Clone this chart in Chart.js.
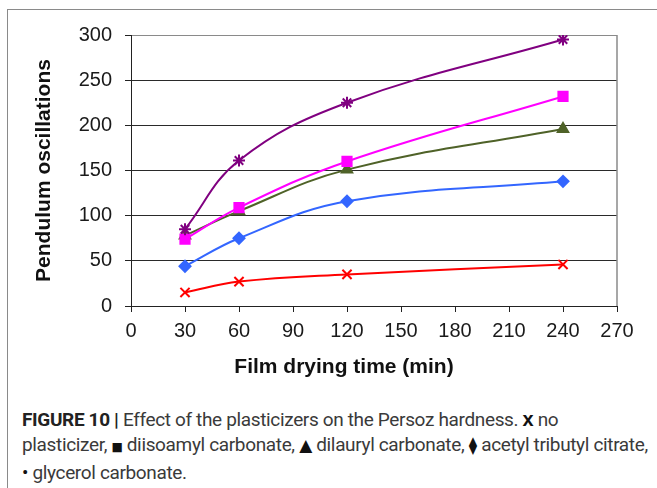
<!DOCTYPE html>
<html>
<head>
<meta charset="utf-8">
<script src="https://cdn.jsdelivr.net/npm/chart.js@4.4.1/dist/chart.umd.min.js"></script>
<style>
  body { margin: 0; background: #fff; width: 657px; height: 488px; overflow: hidden; position: relative; }
  #frame { position: absolute; left: 7px; top: 9px; right: -4px; bottom: -4px; border-left: 1.5px solid #8a8a8a; border-top: 1.5px solid #8a8a8a; }
  #chartBox { position: absolute; left: 0; top: 0; width: 657px; height: 395px; }
  #xTitle { position: absolute; left: 344px; top: 355px; transform: translateX(-50%); font: bold 21px "Liberation Sans", Arial, sans-serif; line-height: 21px; white-space: nowrap; color: #111; }
  #caption { position: absolute; left: 22px; top: 407px; font: 19px Roboto, sans-serif; letter-spacing: -0.35px; line-height: 25px; color: #3a3a3a; white-space: nowrap; }
  #caption b { color: #222; }
  .sym { font-family: "DejaVu Sans", sans-serif; color: #111; }
</style>
</head>
<body>
<div id="frame"></div>
<div id="chartBox"><canvas id="myChart" width="657" height="395"></canvas></div>
<div id="xTitle">Film drying time (min)</div>
<div id="caption"><b>FIGURE 10 |</b> Effect of the plasticizers on the Persoz hardness. <b style="font-family:'Liberation Sans',Arial,sans-serif;font-size:20px;color:#111">x</b> no<br>plasticizer, <span class="sym" style="font-size:12px">■</span> diisoamyl carbonate, <span class="sym" style="font-size:17px">▲</span> dilauryl carbonate, <span class="sym" style="font-size:17px">⧫</span> acetyl tributyl citrate,<br><span style="color:#111">•</span> glycerol carbonate.</div>
<script>
// drying times (min) and Persoz pendulum oscillations
const times = [30, 60, 120, 240];
const noPlasticizer = [85, 161, 225, 295];
const diisoamylCarbonate = [74, 109, 160, 232];
const dilaurylCarbonate = [78, 105, 151, 196];
const acetylTributylCitrate = [44, 75, 116, 138];
const glycerolCarbonate = [15, 27, 35, 46];

const xTicks = [0, 30, 60, 90, 120, 150, 180, 210, 240, 270];
const yTicks = [0, 50, 100, 150, 200, 250, 300];

const toPoints = (values) => values.map((v, i) => ({ x: times[i], y: v }));

const makeSet = (label, values, color, style, radius) => ({
  label: label,
  data: toPoints(values),
  borderColor: color,
  backgroundColor: color,
  borderWidth: 2,
  pointStyle: style,
  pointRadius: radius,
  pointBorderWidth: 2,
  pointBorderColor: color,
  pointBackgroundColor: color,
  tension: 0.4,
  fill: false
});

// right edge of the plot area is drawn in grey like the top gridline
const plotFrame = {
  id: 'plotFrame',
  beforeDatasetsDraw(chart) {
    const { ctx, chartArea } = chart;
    ctx.save();
    ctx.strokeStyle = '#8a8a8a';
    ctx.lineWidth = 1.5;
    ctx.beginPath();
    ctx.moveTo(chartArea.right, chartArea.top);
    ctx.lineTo(chartArea.right, chartArea.bottom);
    ctx.stroke();
    ctx.restore();
  }
};

const tickFont = { family: '"Liberation Sans", Arial, sans-serif', size: 20 };

new Chart(document.getElementById('myChart'), {
  type: 'line',
  data: {
    datasets: [
      makeSet('no plasticizer', noPlasticizer, '#800080', 'star', 6),
      makeSet('diisoamyl carbonate', diisoamylCarbonate, '#ff00ff', 'rect', 6.5),
      makeSet('dilauryl carbonate', dilaurylCarbonate, '#4f6228', 'triangle', 6),
      makeSet('acetyl tributyl citrate', acetylTributylCitrate, '#3366ff', 'rectRot', 5.5),
      makeSet('glycerol carbonate', glycerolCarbonate, '#ff0000', 'crossRot', 6.5)
    ]
  },
  options: {
    responsive: false,
    animation: false,
    layout: { padding: { left: 0, top: 35, right: 40, bottom: 0 } },
    plugins: { legend: { display: false }, tooltip: { enabled: false } },
    scales: {
      x: {
        type: 'linear',
        min: 0,
        max: 270,
        afterBuildTicks: (axis) => { axis.ticks = xTicks.map(v => ({ value: v })); },
        afterFit: (axis) => { axis.height = 89; },
        grid: { drawOnChartArea: false, drawTicks: true, tickLength: 6, tickColor: '#222', lineWidth: 1 },
        border: { display: true, color: '#222', width: 1 },
        ticks: { font: tickFont, color: '#1a1a1a', padding: 7, maxRotation: 0 }
      },
      y: {
        min: 0,
        max: 300,
        afterBuildTicks: (axis) => { axis.ticks = yTicks.map(v => ({ value: v })); },
        afterFit: (axis) => { axis.width = 131; },
        grid: {
          color: (ctx) => ctx.tick && ctx.tick.value === 300 ? '#8a8a8a' : '#2a2a2a',
          tickColor: '#222',
          tickLength: 6,
          lineWidth: 1
        },
        border: { display: true, color: '#222', width: 1 },
        ticks: { font: tickFont, color: '#1a1a1a', padding: 13 },
        title: {
          display: true,
          text: 'Pendulum oscillations',
          font: { family: '"Liberation Sans", Arial, sans-serif', size: 21, weight: 'bold' },
          color: '#111',
          padding: { top: 32, bottom: 0 }
        }
      }
    }
  },
  plugins: [plotFrame]
});
</script>
</body>
</html>
